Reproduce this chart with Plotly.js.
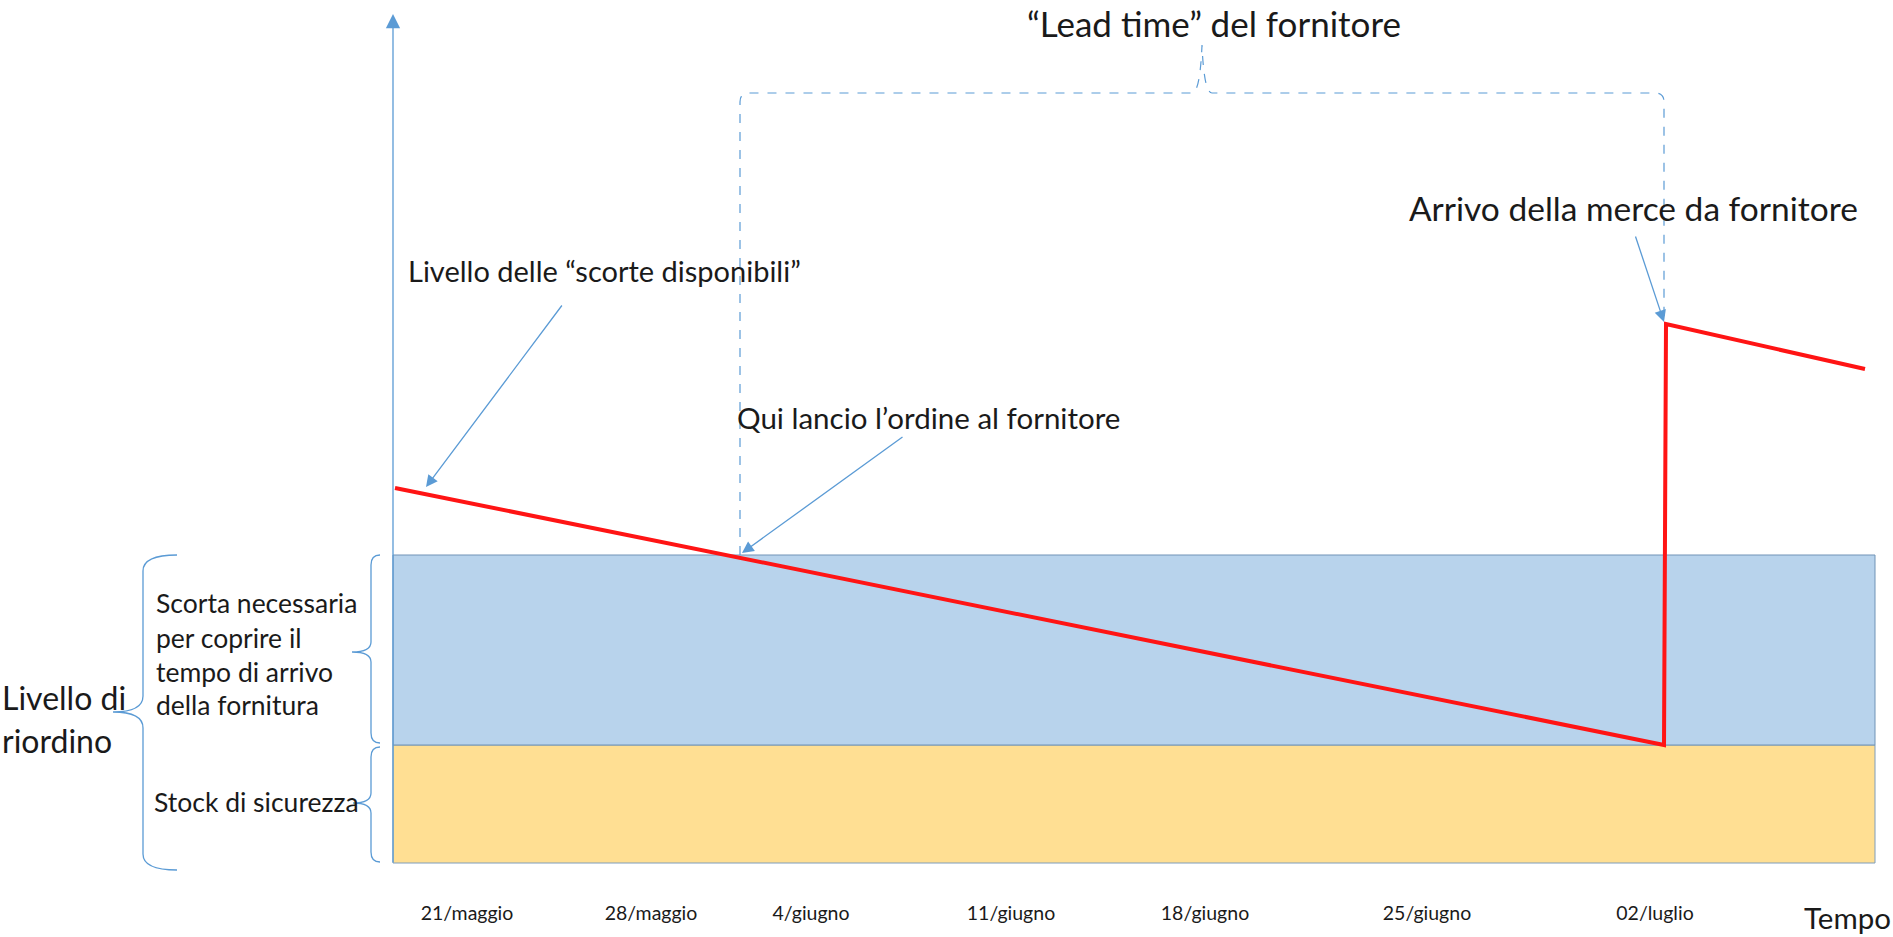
<!DOCTYPE html>
<html>
<head>
<meta charset="utf-8">
<script src="https://cdn.plot.ly/plotly-3.0.1.min.js"></script>
<style>
  html, body { margin: 0; padding: 0; background: #fff; }
  #plot { width: 1893px; height: 937px; }
</style>
</head>
<body>
<div id="plot"></div>
<script>
// time axis (arbitrary units) and stock level
var tickPos = [467, 651, 811, 1011, 1205, 1427, 1655];
var tickText = ['21/maggio', '28/maggio', '4/giugno', '11/giugno', '18/giugno', '25/giugno', '02/luglio'];

var stockTime = [395, 1664, 1666, 1865];
var stockLevel = [375, 118, 539, 494];

var safetyStock = 118;
var reorderLevel = 308;
var orderTime = 740;
var arrivalTime = 1664;
var timeStart = 393;
var timeEnd = 1875;

// helpers: y values below are given as distance from the top of the picture
var top0 = 863;
function lv(p) { return top0 - p; }

var blue = '#5b9bd5';
var txt = '#1a1a1a';
var font = 'Lato, "Open Sans", sans-serif';

function brace(xEnd, xSpine, xTip, yTop, yMid, yBot, r) {
  return 'M' + xEnd + ',' + lv(yTop) +
    ' Q' + xSpine + ',' + lv(yTop) + ' ' + xSpine + ',' + lv(yTop + r) +
    ' L' + xSpine + ',' + lv(yMid - r) +
    ' Q' + xSpine + ',' + lv(yMid) + ' ' + xTip + ',' + lv(yMid) +
    ' Q' + xSpine + ',' + lv(yMid) + ' ' + xSpine + ',' + lv(yMid + r) +
    ' L' + xSpine + ',' + lv(yBot - r) +
    ' Q' + xSpine + ',' + lv(yBot) + ' ' + xEnd + ',' + lv(yBot);
}

// lead time bracket, from order to arrival
var arrivalLevel = stockLevel[2];
var bracketY = lv(93), peakY = lv(45), mid = (orderTime + arrivalTime) / 2, c = 9;
var leadPath = 'M' + orderTime + ',' + reorderLevel +
  ' L' + orderTime + ',' + (bracketY - c) +
  ' Q' + orderTime + ',' + bracketY + ' ' + (orderTime + c) + ',' + bracketY +
  ' L' + (mid - 10) + ',' + bracketY +
  ' Q' + (mid - 2) + ',' + bracketY + ' ' + mid + ',' + peakY +
  ' Q' + (mid + 2) + ',' + bracketY + ' ' + (mid + 10) + ',' + bracketY +
  ' L' + (arrivalTime - c) + ',' + bracketY +
  ' Q' + arrivalTime + ',' + bracketY + ' ' + arrivalTime + ',' + (bracketY - c) +
  ' L' + arrivalTime + ',' + arrivalLevel;

var shapes = [
  {type: 'rect', layer: 'below', x0: timeStart, x1: timeEnd, y0: 0, y1: safetyStock,
   fillcolor: '#ffdf93', line: {color: '#7f9dbb', width: 1}},
  {type: 'rect', layer: 'below', x0: timeStart, x1: timeEnd, y0: safetyStock, y1: reorderLevel,
   fillcolor: '#b8d3ec', line: {color: '#7193b6', width: 1}},
  {type: 'path', path: leadPath, line: {color: blue, width: 1.2, dash: 'dash'}},
  {type: 'path', path: brace(177, 143, 113, 555, 712, 870, 16), line: {color: blue, width: 1.3}},
  {type: 'path', path: brace(380, 371, 352, 555, 652, 743, 10), line: {color: blue, width: 1.3}},
  {type: 'path', path: brace(380, 371, 353, 747, 803, 862, 10), line: {color: blue, width: 1.3}}
];

function label(text, x, y, size, anchor) {
  return {text: text, x: x, y: lv(y), xref: 'x', yref: 'y', showarrow: false,
          xanchor: anchor || 'left', yanchor: 'middle',
          font: {family: font, size: size, color: txt}};
}
function arrow(x, y, ax, ay, size) {
  return {text: '', x: x, y: lv(y), ax: ax, ay: lv(ay), xref: 'x', yref: 'y',
          axref: 'x', ayref: 'y', showarrow: true, arrowhead: 2,
          arrowsize: size || 1.8, arrowwidth: 1.3, arrowcolor: blue};
}

var leftLines = ['Scorta necessaria', 'per coprire il', 'tempo di arrivo', 'della fornitura'];
var leftY = [603, 638, 672, 705];

var annotations = [
  label('\u201CLead time\u201D del fornitore', 1214, 23, 35, 'center'),
  label('Arrivo della merce da fornitore', 1407, 208, 33.5),
  label('Livello delle \u201Cscorte disponibili\u201D', 406, 270, 29),
  label('Qui lancio l\u2019ordine al fornitore', 735, 417, 29.5),
  label('Stock di sicurezza', 152, 802, 26.5),
  label('Livello di', 0, 697, 32),
  label('riordino', 0, 740, 32),
  label('Tempo', 1802, 917, 29.5),
  arrow(timeStart, 14, timeStart, 864, 2.2),
  arrow(426, 487, 563, 304),
  arrow(742, 553, 904, 436),
  arrow(1664, 322, 1635, 235)
];
leftLines.forEach(function(t, i) { annotations.push(label(t, 154, leftY[i], 26.5)); });

var trace = {
  x: stockTime,
  y: stockLevel,
  mode: 'lines',
  line: {color: '#ff1414', width: 4},
  hoverinfo: 'skip'
};

var layout = {
  width: 1893,
  height: 937,
  margin: {l: 0, r: 0, t: 0, b: 0},
  paper_bgcolor: '#fff',
  plot_bgcolor: '#fff',
  showlegend: false,
  xaxis: {
    range: [0, 1893],
    anchor: 'free',
    position: 0.04,
    tickvals: tickPos,
    ticktext: tickText,
    tickfont: {family: font, size: 19.5, color: txt},
    ticks: '',
    showline: false,
    showgrid: false,
    zeroline: false,
    fixedrange: true
  },
  yaxis: {
    range: [-74, 863],
    visible: false,
    fixedrange: true
  },
  shapes: shapes,
  annotations: annotations
};

Plotly.newPlot('plot', [trace], layout, {displayModeBar: false, staticPlot: true});
</script>
</body>
</html>
